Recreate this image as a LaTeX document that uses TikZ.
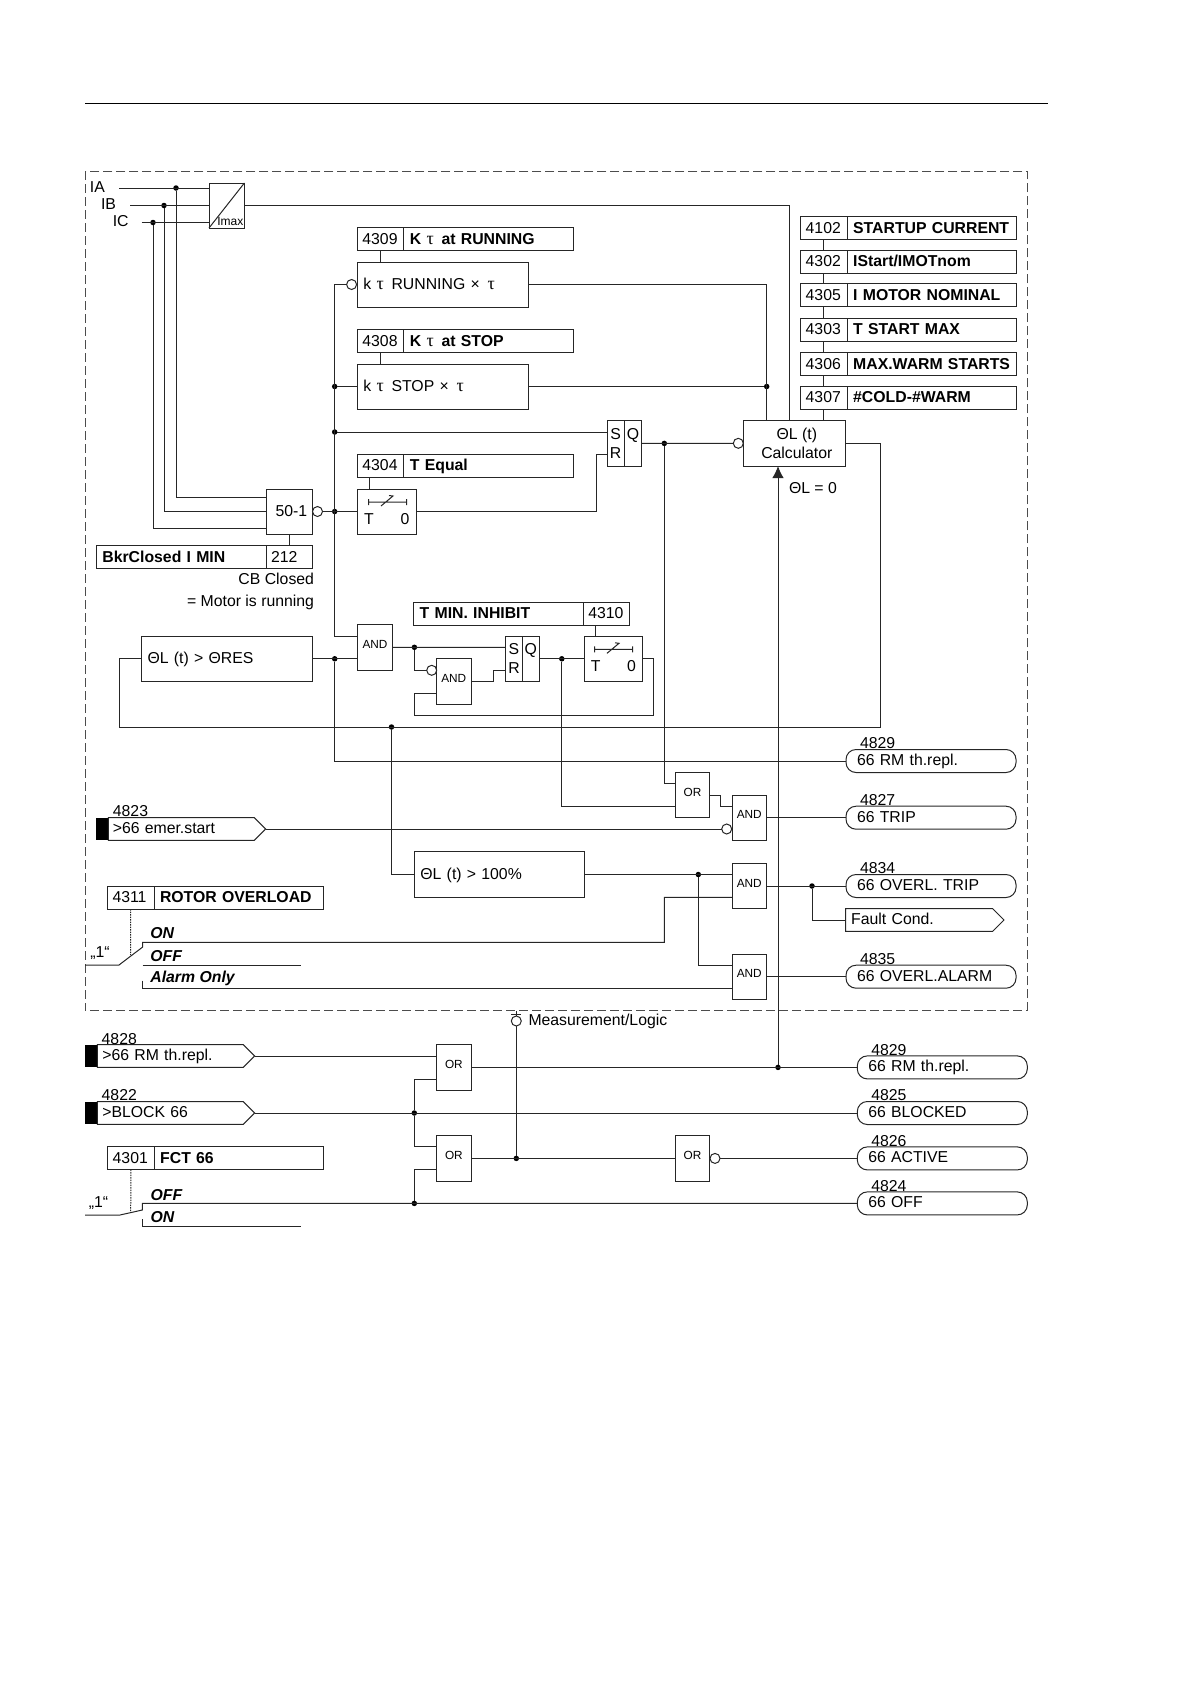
\documentclass[tikz,border=0pt]{standalone}
\usepackage{fontspec}
\setmainfont{Liberation Sans}
\newfontfamily\serifgreek{Liberation Serif}
\usetikzlibrary{arrows.meta,shapes.symbols}
\newcommand{\basefont}{\fontsize{15.8}{19}\selectfont}
\newcommand{\tausym}{{\mdseries\serifgreek\fontsize{18}{19}\selectfont τ}}
\tikzset{
  wire/.style={line width=1pt, draw=black!85},
  plain/.style={inner sep=0pt},
  num/.style={draw=black!85, line width=1pt, text width=36.5pt, inner xsep=5pt, inner ysep=0pt, minimum height=23pt, text height=11.4pt, text depth=1pt, align=left, anchor=west},
  title/.style={draw=black!85, line width=1pt, font=\basefont\bfseries, text width=157.6pt, inner xsep=6pt, inner ysep=0pt, minimum height=23pt, text height=11.4pt, text depth=1pt, align=left, anchor=west},
  block/.style={draw=black!85, line width=1pt, inner sep=0pt, anchor=north west},
  lblock/.style={block, inner xsep=6pt, text height=11.4pt, text depth=1.8pt, align=left},
  gate/.style={block, font=\fontsize{11.8}{14}\selectfont, minimum width=34.4pt, minimum height=45.4pt, text depth=6pt},
  neg/.style={circle, draw=black!85, line width=1pt, fill=white, minimum size=10pt, inner sep=0pt},
  dot/.style={circle, fill=black, minimum size=5.5pt, inner sep=0pt},
  pill/.style={draw=black!85, line width=1pt, rounded corners=10pt, text width=148pt, inner xsep=11pt, inner ysep=0pt, minimum height=23pt, text height=11.4pt, text depth=2.6pt, align=left, anchor=west},
  tag/.style={plain, anchor=west},
  sig/.style={signal, signal to=east, signal from=nowhere, signal pointer angle=90, draw=black!85, line width=1pt, text width=139pt, inner xsep=3.5pt, inner ysep=0pt, minimum height=22.6pt, text height=11.4pt, text depth=1.6pt, align=left, anchor=west},
  bar/.style={fill=black, minimum width=12.3pt, minimum height=22.6pt, inner sep=0pt, anchor=west},
  swpos/.style={plain, anchor=west, font=\basefont\bfseries\itshape},
  link/.style={wire, dash pattern=on 1.5pt off 1pt},
  delaysym/.pic={
    \draw[wire] (-19,0) -- (19,0) (-19,-3) -- (-19,3) (19,-3) -- (19,3) (-6.5,4) -- (5.5,-6) -- (1.5,-6.5);
  }
}
\begin{document}
\begin{tikzpicture}[x=1pt, y=-1pt, every node/.style={font=\basefont, outer sep=0pt}]
    \useasboundingbox (0,0) rectangle (1190,1684);

    % Page rule and frame
    \draw[line width=1pt] (85,103.5) -- (1048,103.5);
    \draw[line width=1pt, draw=black!70, dash pattern=on 9pt off 4pt] (85,171) rectangle (1027,1010.7);

    % Current inputs
    \node[plain] (ia) at (97.4,187.5) {IA};
    \node[plain] (ib) at (108.5,204.5) {IB};
    \node[plain] (ic) at (120.7,221.5) {IC};
    \coordinate (iastart) at (119,188);
    \coordinate (ibstart) at (130,205.5);
    \coordinate (icstart) at (141.6,222.5);
    \node[block, minimum width=35.4pt, minimum height=45pt] (imax) at (209,183) {};
    \node[plain, anchor=south east, font=\fontsize{12}{14}\selectfont] (imaxtext) at ([shift={(-1,-2)}]imax.south east) {Imax};
    \coordinate (imaxa) at (209,188);
    \coordinate (imaxc) at (209,222.5);

    % Settings with blocks
    \node[num] (n4309) at (357.4,239.3) {4309};
    \node[title] (t4309) at (n4309.east) {K \tausym{}\hspace{2.5pt} at RUNNING};
    \node[lblock, text width=158.6pt, minimum height=45pt] (krun) at (357.4,262) {k \tausym{}\hspace{2.5pt} RUNNING ×\hspace{2.5pt} \tausym};
    \node[neg] (krneg) at (351.6,284.5) {};

    \node[num] (n4308) at (357.4,341) {4308};
    \node[title] (t4308) at (n4308.east) {K \tausym{}\hspace{2.5pt} at STOP};
    \node[lblock, text width=158.6pt, minimum height=45pt] (kstop) at (357.4,364) {k \tausym{}\hspace{2.5pt} STOP ×\hspace{2.5pt} \tausym};

    \node[num] (n4304) at (357.4,465.5) {4304};
    \node[title] (t4304) at (n4304.east) {T Equal};
    \node[block, minimum width=59.1pt, minimum height=45pt] (tima) at (357.4,489) {};
    \pic (syma) at (387.5,502) {delaysym};
    \node[plain] (tat) at (369,519) {T};
    \node[plain] (tao) at (405,519) {0};

    % Overcurrent element
    \node[block, minimum width=45.2pt, minimum height=45pt] (bk) at (266.8,489) {\hspace*{4pt}50-1};
    \node[neg] (bkneg) at (317.5,511.5) {};
    \coordinate (bka) at (266.8,497);
    \coordinate (bkc) at (266.8,528);
    \node[title] (tbkr) at (96.4,557) {BkrClosed I MIN};
    \node[num] (nbkr) at (tbkr.east) {212};
    \node[plain, anchor=east] (cbtext) at (314,579) {CB Closed};
    \node[plain, anchor=east] (motortext) at (314,602.5) {= Motor is running};

    % Thermal calculator
    \node[block, minimum width=17.3pt, minimum height=45.3pt, align=center] (sra) at (607,420.7) {S\\R};
    \node[block, minimum width=17.4pt, minimum height=45.3pt, align=center] (qa) at (624.3,420.7) {Q\\~};
    \node[block, minimum width=102.7pt, minimum height=45.3pt, align=center] (calc) at (743,420.7) {\hspace*{5pt}ΘL (t)\\\hspace*{5pt}Calculator};
    \node[neg] (calcneg) at (738.3,443.3) {};
    \node[plain, anchor=west] (zerotext) at (789,488) {ΘL = 0};
    \coordinate (srain) at (607,432);
    \coordinate (srar) at (607,454.7);
    \coordinate (rbend) at (596,454.7);
    \coordinate (calca) at (789.3,420.7);
    \coordinate (calcb) at (766.7,420.7);

    \node[num] (n4102) at (800.7,227.8) {4102};
    \node[title] (t4102) at (n4102.east) {STARTUP CURRENT};
    \node[num] (n4302) at (800.7,261.5) {4302};
    \node[title] (t4302) at (n4302.east) {IStart/IMOTnom};
    \node[num] (n4305) at (800.7,295.3) {4305};
    \node[title] (t4305) at (n4305.east) {I MOTOR NOMINAL};
    \node[num] (n4303) at (800.7,329.5) {4303};
    \node[title] (t4303) at (n4303.east) {T START MAX};
    \node[num] (n4306) at (800.7,363.8) {4306};
    \node[title] (t4306) at (n4306.east) {MAX.WARM STARTS};
    \node[num] (n4307) at (800.7,397.5) {4307};
    \node[title] (t4307) at (n4307.east) {\#COLD-\#WARM};

    % Inhibit logic
    \node[lblock, text width=158.6pt, minimum height=45pt] (thres) at (141.6,636.3) {ΘL (t) > ΘRES};
    \node[gate] (anda) at (357.8,624.7) {AND};
    \node[gate] (andb) at (436.6,658.7) {AND};
    \node[neg] (andbneg) at (431.7,670.3) {};
    \node[block, minimum width=16.9pt, minimum height=45pt, align=center] (srb) at (505.5,636.3) {S\\R};
    \node[block, minimum width=16.8pt, minimum height=45pt, align=center] (qb) at (522.4,636.3) {Q\\~};
    \node[title] (tmin) at (413.7,613.7) {T MIN. INHIBIT};
    \node[num] (n4310) at (tmin.east) {4310};
    \node[block, minimum width=58.5pt, minimum height=45pt] (timb) at (584,636.3) {};
    \pic (symb) at (613.5,649.3) {delaysym};
    \node[plain] (tbt) at (595.8,666) {T};
    \node[plain] (tbo) at (631.5,666) {0};
    \coordinate (andain) at (357.8,636);
    \coordinate (andaib) at (357.8,658.8);
    \coordinate (mainbot) at (334.7,636);
    \coordinate (andbib) at (436.6,693);
    \coordinate (lpr) at (653,715.7);
    \coordinate (lpl) at (414.4,715.7);
    \coordinate (srbs) at (505.5,647.3);
    \coordinate (srbr) at (505.5,670);
    \coordinate (rbbend) at (493.6,670);
    \coordinate (fbr) at (880,727);
    \coordinate (fbl) at (119,727);

    % Trip gates and outputs
    \node[lblock, minimum height=45.6pt, text width=157.9pt] (thund) at (414.4,851.7) {ΘL (t) > 100\%};
    \node[gate] (ora) at (675.3,772.3) {OR};
    \node[gate] (andc) at (732,795) {AND};
    \node[neg] (andcneg) at (726.7,829) {};
    \node[gate] (andd) at (732,863.3) {AND};
    \node[gate] (ande) at (732,954) {AND};
    \coordinate (orain) at (675.3,783.7);
    \coordinate (oraib) at (675.3,806.3);
    \coordinate (orbend) at (720.7,806.7);
    \coordinate (andcia) at (732,806.7);
    \coordinate (anddia) at (732,874.5);
    \coordinate (anddib) at (732,897.3);
    \coordinate (andeia) at (732,965.3);
    \coordinate (andeib) at (732,988);

    \node[pill] (pa) at (846,761) {66 RM th.repl.};
    \node[tag] (na) at (860,743.3) {4829};
    \node[pill] (pb) at (846,817.7) {66 TRIP};
    \node[tag] (nb) at (860,800) {4827};
    \node[pill] (pc) at (846,886) {66 OVERL. TRIP};
    \node[tag] (nc) at (860,868) {4834};
    \node[sig, inner xsep=5.5pt, text width=136pt] (fault) at (845.7,920) {Fault Cond.};
    \node[pill] (pd) at (846,976.7) {66 OVERL.ALARM};
    \node[tag] (nd) at (860,958.7) {4835};

    % Emergency start and rotor overload
    \node[bar] (bara) at (96,829) {};
    \node[sig, inner xsep=4.5pt, text width=137pt] (sa) at (bara.east) {>66 emer.start};
    \node[tag] (ta) at (112.9,811) {4823};
    \node[num] (n4311) at (107.5,897.5) {4311};
    \node[title] (t4311) at (n4311.east) {ROTOR OVERLOAD};
    \node[plain] (onea) at (100,953) {„1“};
    \node[swpos] (ona) at (150.4,933) {ON};
    \node[swpos] (offa) at (150.4,956) {OFF};
    \node[swpos] (alarma) at (150.4,978) {Alarm Only};
    \coordinate (swa) at (130.5,955);
    \coordinate (swin) at (85,965);
    \coordinate (swpa) at (119,965);
    \coordinate (swpb) at (142.7,947);
    \coordinate (onleft) at (142.7,942.3);
    \coordinate (onright) at (664.3,942.3);
    \coordinate (offl) at (142.7,965);
    \coordinate (offr) at (301,965);
    \coordinate (alml) at (142.7,980.7);

    % Below the frame
    \node[neg] (meas) at (516.3,1021) {};
    \node[plain, anchor=west] (meastext) at (528.5,1021) {Measurement/Logic};
    \coordinate (meastop) at (516.3,1010.7);
    \coordinate (measl) at (511.3,1014.7);
    \coordinate (measr) at (521.3,1014.7);

    \node[bar] (barb) at (85,1056) {};
    \node[sig, inner xsep=5pt, text width=136pt] (sb) at (barb.east) {>66 RM th.repl.};
    \node[tag] (tb) at (101.7,1038.7) {4828};
    \node[bar] (barc) at (85,1113) {};
    \node[sig, inner xsep=5pt, text width=136pt] (sc) at (barc.east) {>BLOCK 66};
    \node[tag] (tc) at (101.7,1095.3) {4822};
    \node[num] (n4301) at (107.7,1158) {4301};
    \node[title] (t4301) at (n4301.east) {FCT 66};
    \node[plain] (oneb) at (98.5,1202.7) {„1“};
    \node[swpos] (offb) at (150.7,1195) {OFF};
    \node[swpos] (onb) at (150.7,1216.7) {ON};
    \coordinate (swb) at (130.7,1211.7);
    \coordinate (swc) at (85,1215);
    \coordinate (swd) at (120,1215);
    \coordinate (swe) at (142.3,1210);
    \coordinate (oleft) at (142.3,1203.4);
    \coordinate (onl) at (142.3,1219.3);
    \coordinate (onr) at (301,1226.7);

    \node[gate] (orb) at (436.7,1044.7) {OR};
    \node[gate] (orc) at (436.7,1135.7) {OR};
    \node[gate] (ord) at (675.3,1135.7) {OR};
    \node[neg] (ordneg) at (715,1158.4) {};
    \coordinate (orbib) at (436.7,1079);
    \coordinate (orcia) at (436.7,1146.7);
    \coordinate (orcib) at (436.7,1169.3);

    \node[pill] (pe) at (857.3,1067.4) {66 RM th.repl.};
    \node[tag] (ne) at (871.3,1050) {4829};
    \node[pill] (pf) at (857.3,1113) {66 BLOCKED};
    \node[tag] (nf) at (871.3,1095.3) {4825};
    \node[pill] (pg) at (857.3,1158.4) {66 ACTIVE};
    \node[tag] (ng) at (871.3,1140.7) {4826};
    \node[pill] (ph) at (857.3,1203.4) {66 OFF};
    \node[tag] (nh) at (871.3,1186) {4824};

    % Junctions
    \node[dot] (dia) at (176,188) {};
    \node[dot] (dib) at (164,205.5) {};
    \node[dot] (dic) at (153,222.5) {};
    \node[dot] (dstop) at (334.7,386.5) {};
    \node[dot] (dsr) at (334.7,432) {};
    \node[dot] (dout) at (334.7,511.5) {};
    \node[dot] (dcal) at (766.7,386.5) {};
    \node[dot] (dq) at (664.3,443.4) {};
    \node[dot] (dth) at (334.7,658.8) {};
    \node[dot] (dand) at (414.4,647.3) {};
    \node[dot] (dqb) at (561.8,658.8) {};
    \node[dot] (dfb) at (391.5,727) {};
    \node[dot] (dthund) at (698.3,874.5) {};
    \node[dot] (dfault) at (812,886) {};
    \node[dot] (dorb) at (778,1067.4) {};
    \node[dot] (dblk) at (414.3,1113) {};
    \node[dot] (dact) at (516.3,1158.4) {};
    \node[dot] (doff) at (414.3,1203.4) {};

    % Connectors, upper part
    \draw[wire] (iastart) -- (imaxa);
    \draw[wire] (ibstart) -- (imax.west);
    \draw[wire] (icstart) -- (imaxc);
    \draw[wire] (imax.south west) -- (imax.north east);
    \draw[wire] (dia) |- (bka);
    \draw[wire] (dib) |- (bk.west);
    \draw[wire] (dic) |- (bkc);
    \draw[wire] (imax.east) -| (calca);
    \draw[wire] (bkneg) -- (tima.west);
    \draw[wire] (nbkr.north) -- (nbkr.north |- bk.south);
    \draw[wire] (n4309.south) -- (n4309.south |- krun.north);
    \draw[wire] (n4308.south) -- (n4308.south |- kstop.north);
    \draw[wire] (tat |- n4304.south) -- (tat |- tima.north);
    \draw[wire] (krneg) -| (mainbot) -- (andain);
    \draw[wire] (dstop) -- (kstop.west);
    \draw[wire] (dsr) -- (srain);
    \draw[wire] (tima.east) -| (rbend) -- (srar);
    \draw[wire] (krun.east) -| (calcb);
    \draw[wire] (kstop.east) -- (dcal);
    \draw[wire] (qa.east) -- (calcneg);
    \draw[wire] (dq) |- (orain);
    \draw[wire] (n4102.south) -- (n4302.north);
    \draw[wire] (n4302.south) -- (n4305.north);
    \draw[wire] (n4305.south) -- (n4303.north);
    \draw[wire] (n4303.south) -- (n4306.north);
    \draw[wire] (n4306.south) -- (n4307.north);
    \draw[wire] (n4307.south) -- (n4307.south |- calc.north);
    \draw[wire] (calc.east) -| (fbr) -- (fbl) |- (thres.west);
    \draw[wire, -{Latex[length=12pt,width=11.5pt]}] (dorb) -- (dorb |- calc.south);

    % Connectors, inhibit logic
    \draw[wire] (thres.east) -- (andaib);
    \draw[wire] (dth) |- (pa.west);
    \draw[wire] (anda.east) -- (srbs);
    \draw[wire] (dand) |- (andbneg);
    \draw[wire] (timb.east) -| (lpr) -- (lpl) |- (andbib);
    \draw[wire] (andb.east) -| (rbbend) -- (srbr);
    \draw[wire] (qb.east) -- (timb.west);
    \draw[wire] (tbt |- n4310.south) -- (tbt |- timb.north);
    \draw[wire] (dqb) |- (oraib);
    \draw[wire] (dfb) |- (thund.west);

    % Connectors, trip gates
    \draw[wire] (ora.east) -| (orbend) -- (andcia);
    \draw[wire] (sa.east) -- (andcneg);
    \draw[wire] (andc.east) -- (pb.west);
    \draw[wire] (thund.east) -- (anddia);
    \draw[wire] (dthund) |- (andeia);
    \draw[wire] (andd.east) -- (pc.west);
    \draw[wire] (dfault) |- (fault.west);
    \draw[wire] (ande.east) -- (pd.west);
    \draw[link] (n4311.south) -- (swa);
    \draw[wire] (swin) -- (swpa) -- (swpb) -- (onleft) -- (onright) |- (anddib);
    \draw[wire] (offl) -- (offr);
    \draw[wire] (alml) |- (andeib);

    % Connectors, lower part
    \draw[wire] (meastop) -- (meas);
    \draw[wire] (measl) -- (measr);
    \draw[wire] (dact) -- (meas);
    \draw[wire] (sb.east) -- (sb.east -| orb.west);
    \draw[wire] (orb.east) -- (pe.west);
    \draw[wire] (sc.east) -- (pf.west);
    \draw[wire] (dblk) |- (orbib);
    \draw[wire] (dblk) |- (orcia);
    \draw[wire] (orc.east) -- (ord.west);
    \draw[wire] (ordneg) -- (pg.west);
    \draw[wire] (doff) |- (orcib);
    \draw[link] (n4301.south) -- (swb);
    \draw[wire] (swc) -- (swd) -- (swe) -- (oleft) -- (ph.west);
    \draw[wire] (onl) |- (onr);
\end{tikzpicture}
\end{document}
